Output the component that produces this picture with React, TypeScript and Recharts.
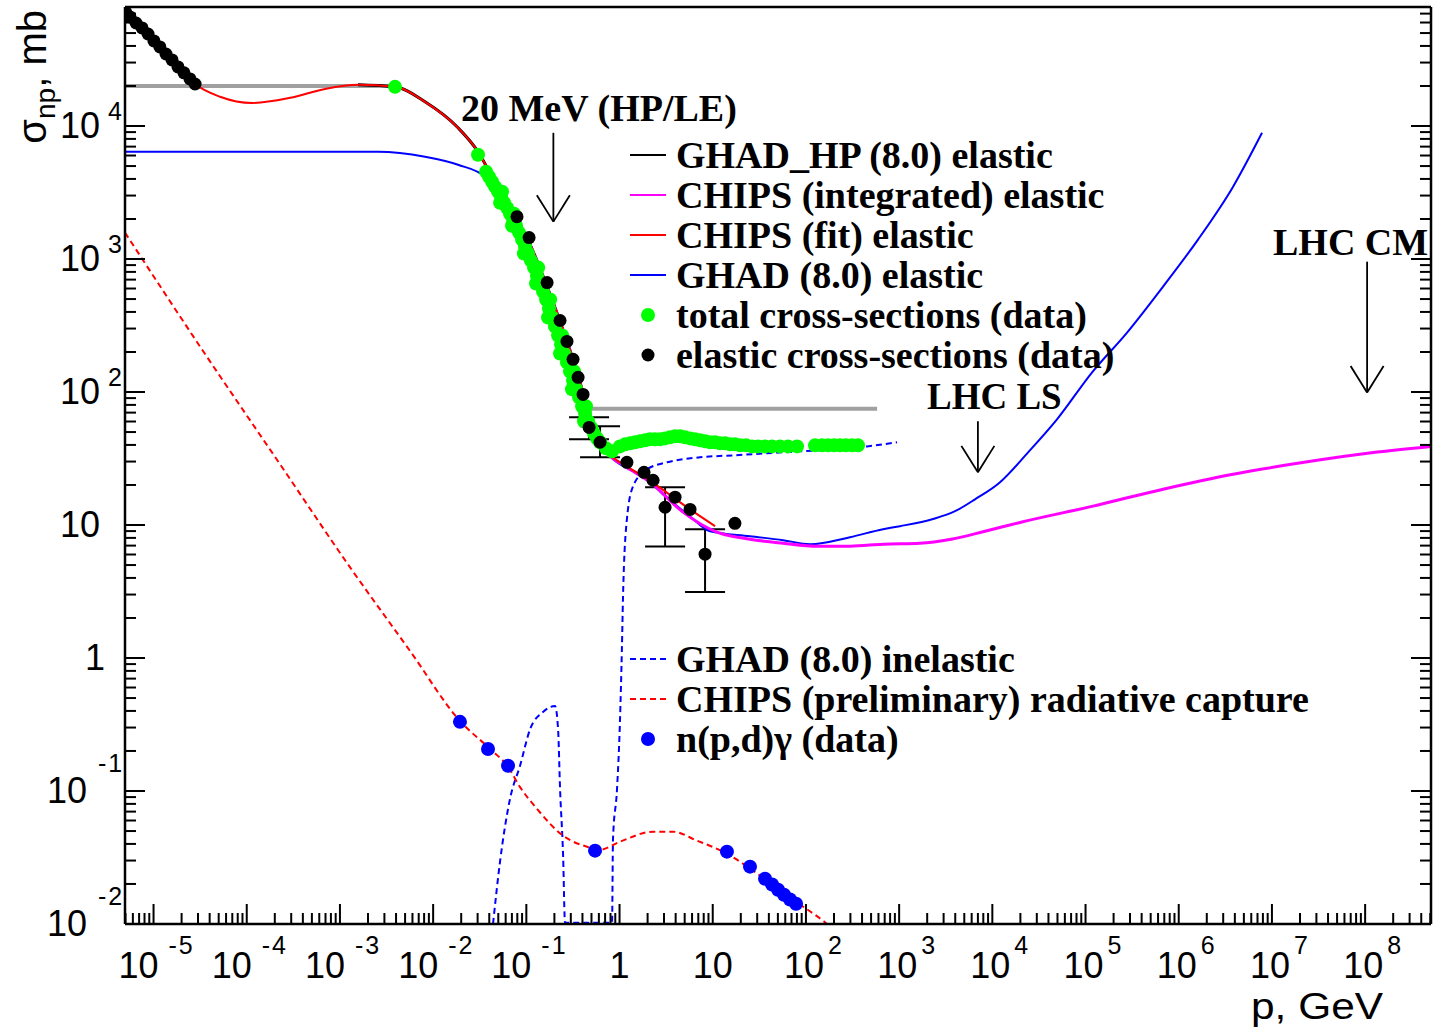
import React from 'react';
import { ComposedChart, Line, Scatter, XAxis, YAxis, ErrorBar, ReferenceLine } from 'recharts';

type P = [number, number];

// ---------- data (p in GeV, sigma in mb) ----------
const GRAY_LOW: P[] = [[4.9e-6, 20000], [0.0039, 20000]];
const GRAY_HIGH: P[] = [[0.48, 75], [580, 75]];

const ELASTIC_DATA: P[] = [
  [5.07e-6, 70800], [5.6e-6, 66100], [6.49e-6, 59500], [7.53e-6, 54600], [8.73e-6, 49200],
  [1.01e-5, 43600], [1.17e-5, 39300], [1.36e-5, 34800], [1.58e-5, 31400], [1.83e-5, 27800],
  [2.12e-5, 25100], [2.46e-5, 22600], [2.79e-5, 20700],
  [0.0794, 2080], [0.107, 1450], [0.167, 665], [0.23, 345], [0.273, 240], [0.317, 176],
  [0.359, 129], [0.406, 95.9],
  [1.2, 29.6], [1.83, 24.9], [2.29, 21.7], [3.94, 16.2], [5.71, 13.1], [17.3, 10.3],
];
// p, sigma, lower error, upper error
const ELASTIC_ERR: [number, number, number, number][] = [
  [0.471, 54.2, 10.1, 10.3],
  [0.618, 41.9, 9.6, 13.3],
  [3.08, 13.6, 6.7, 5.6],
  [8.27, 6.04, 2.91, 3.26],
];

const TOTAL_DATA: P[] = [
  [0.0039, 19700], [0.0303, 6080],
  [0.037, 4530], [0.0429, 3810], [0.0497, 3210], [0.0577, 2650], [0.0668, 2190], [0.0775, 1780],
  [0.0899, 1400], [0.104, 1100], [0.121, 862], [0.14, 654], [0.163, 496], [0.189, 363],
  [0.219, 266], [0.254, 195], [0.294, 143], [0.341, 105], [0.396, 78], [0.459, 60.2],
  [0.532, 48.9], [0.618, 41.9], [0.716, 37.7],
  [0.0398, 4150], [0.0461, 3500], [0.0535, 2940], [0.0621, 2430], [0.072, 1980], [0.0835, 1580],
  [0.0968, 1240], [0.112, 973], [0.13, 750], [0.151, 569], [0.175, 424], [0.203, 311],
  [0.236, 228], [0.273, 167], [0.317, 122], [0.368, 91.1], [0.427, 69.1], [0.495, 54.2],
  [0.574, 44.8],
  [0.0523, 2650], [0.0702, 1780], [0.0942, 1100], [0.127, 654], [0.171, 363], [0.23, 195],
  [0.309, 105], [0.416, 60.2],
  [0.0549, 3210], [0.0737, 2190], [0.0992, 1400], [0.134, 862], [0.18, 496], [0.242, 266],
  [0.325, 143], [0.437, 78],
  [0.831, 35.8], [1.01, 39], [1.15, 40.4], [1.3, 41.1], [1.47, 41.9], [1.66, 42.6], [1.88, 43.3],
  [2.12, 44.1], [2.4, 44.1], [2.72, 44.1], [3.08, 44.8], [3.48, 45.6], [3.94, 46.4], [4.46, 46.4],
  [5.04, 45.6], [5.71, 44.8], [6.46, 44.1], [7.31, 43.3], [8.27, 42.6], [9.35, 41.9], [10.6, 41.9],
  [12, 41.1], [13.6, 41.1], [15.3, 40.4], [17.3, 40.4], [19.6, 39.7], [22.8, 39.7], [26.4, 39],
  [30.6, 39], [36.4, 39], [43.3, 39], [52.7, 39], [64.3, 39], [80.3, 39], [125, 39.7],
  [149, 39.7], [173, 39.7], [200, 39.7], [232, 39.7], [269, 39.7], [313, 39.7], [362, 39.7],
];

const NPDG_DATA: P[] = [
  [0.0194, 0.331], [0.0388, 0.207], [0.0636, 0.155], [0.546, 0.0356], [14.2, 0.035],
  [25.1, 0.027], [36.4, 0.0219], [43.3, 0.0198], [50.2, 0.0181], [58.2, 0.0166],
  [67.5, 0.0153], [78.3, 0.0142],
];

const GHAD_HP: P[] = [
  [1.56e-3, 20400], [0.0039, 19700], [8.18e-3, 15200], [0.0185, 9690], [0.0303, 6400],
  [0.0429, 4150], [0.0591, 2790], [0.0794, 1980], [0.11, 1280], [0.159, 677], [0.23, 339],
  [0.309, 185], [0.396, 105],
];

const CHIPS_FIT: P[] = [
  [4.94e-6, 74500], [7.53e-6, 54600], [1.01e-5, 43600], [1.7e-5, 29800], [2.79e-5, 20700],
  [5.17e-5, 16600], [1.14e-4, 14900], [2.92e-4, 16300], [6.92e-4, 19000], [1.56e-3, 20400],
  [0.0039, 19700], [8.18e-3, 15200], [0.0185, 9690], [0.0303, 6400], [0.0429, 4150],
  [0.0591, 2790], [0.0794, 1980], [0.11, 1280], [0.159, 677], [0.23, 339], [0.309, 185],
  [0.396, 105], [0.482, 67.9], [0.588, 48], [0.791, 34], [1.15, 28.1], [1.88, 22.8],
  [3.08, 17.9], [5.71, 13.1], [10.6, 9.8],
];

const CHIPS_INT: P[] = [
  [0.0591, 2740], [0.0794, 1940], [0.11, 1260], [0.159, 665], [0.23, 333], [0.309, 182],
  [0.396, 103], [0.482, 66.7], [0.588, 47.2], [0.791, 33.4], [1.15, 27.6], [2.12, 21],
  [4.8, 12.5], [11.1, 8.83], [25.1, 7.82], [56.8, 7.3], [132, 6.93], [297, 6.93], [671, 7.18],
  [1675, 7.3], [3610, 7.82], [8350, 8.98], [20300, 10.5], [117000, 13.8], [679000, 18.6],
  [3.83e6, 24.1], [2.21e7, 29.6], [1.28e8, 35.2], [5.09e8, 39],
];

const GHAD_EL: P[] = [
  [4.94e-6, 6400], [2.56e-3, 6400], [8.18e-3, 5870], [0.0185, 5110], [0.036, 4150],
  [0.0522, 3040], [0.0794, 1910], [0.11, 1240], [0.159, 654], [0.23, 327], [0.309, 179],
  [0.396, 101], [0.482, 65.6], [0.588, 46.4], [0.791, 32.9], [1.15, 27.2], [1.79, 23.3],
  [3.08, 16.5], [5.71, 11.6], [9.35, 8.98], [25.1, 8.24], [56.8, 7.69], [111, 7.18],
  [297, 8.1], [671, 9.3], [1023, 9.8], [2310, 11.1], [3980, 12.7], [6520, 15.6], [12100, 21],
  [24200, 35.2], [49400, 62.3], [117000, 140], [279000, 280], [679000, 621], [1.61e6, 1400],
  [3.83e6, 3500], [7.83e6, 8890],
];

const GHAD_INEL: P[] = [
  [0.0439, 0.01], [0.0522, 0.0294], [0.0668, 0.0874], [0.0856, 0.155], [0.11, 0.293],
  [0.151, 0.393], [0.203, 0.436], [0.219, 0.293], [0.23, 0.104], [0.248, 0.0326],
  [0.26, 0.0102], [0.831, 0.0102], [0.851, 0.0438], [0.94, 0.104], [1.01, 0.331], [1.06, 1.17],
  [1.09, 2.92], [1.2, 11.1], [1.4, 19.6], [1.97, 26.2], [3.23, 29.6], [7.31, 32.3],
  [16.5, 33.4], [56.8, 35.2], [195, 37.1], [453, 39], [949, 41.9],
];

const CAPTURE: P[] = [
  [4.94e-6, 1580], [3.15e-5, 220], [2.28e-4, 28.6], [1.28e-3, 4.82], [5.65e-3, 1.13],
  [0.0194, 0.336], [0.0408, 0.207], [0.0636, 0.152], [0.0856, 0.107], [0.13, 0.0735],
  [0.248, 0.0461], [0.448, 0.0381], [0.618, 0.0362], [1.01, 0.0416], [2.29, 0.0494],
  [3.75, 0.0494], [6.78, 0.0423], [14.2, 0.0338], [27.1, 0.0252], [62.7, 0.0163],
  [160, 0.0103], [205, 0.0089],
];

const ARROWS = [
  { label: '20 MeV (HP/LE)', p: 0.195, from: 8890, to: 1910 },
  { label: 'LHC LS', p: 7000, from: 60.2, to: 24.9 },
  { label: 'LHC CM', p: 1.05e8, from: 955, to: 99.3 },
];

const X_LABEL_EXPONENTS = [-5, -4, -3, -2, -1, 0, 1, 2, 3, 4, 5, 6, 7, 8];
const Y_LABEL_EXPONENTS = [-2, -1, 0, 1, 2, 3, 4];
const MINOR_MULTS = [1, 2, 3, 4, 5, 6, 7, 8, 9];

const X_DOMAIN: [number, number] = [4.94e-6, 5.09e8];
const Y_DOMAIN: [number, number] = [0.01, 78500];

const LEGEND_TOP = [
  { label: 'GHAD_HP (8.0) elastic', kind: 'line', color: '#000000' },
  { label: 'CHIPS (integrated) elastic', kind: 'line', color: '#ff00ff' },
  { label: 'CHIPS (fit) elastic', kind: 'line', color: '#ff0000' },
  { label: 'GHAD (8.0) elastic', kind: 'line', color: '#0000ff' },
  { label: 'total cross-sections (data)', kind: 'dot', color: '#00ff00' },
  { label: 'elastic cross-sections (data)', kind: 'dot', color: '#000000' },
];
const LEGEND_BOTTOM = [
  { label: 'GHAD (8.0) inelastic', kind: 'dash', color: '#0000ff' },
  { label: 'CHIPS (preliminary) radiative capture', kind: 'dash', color: '#ff0000' },
  { label: 'n(p,d)γ (data)', kind: 'dot', color: '#0000ff' },
];

// ---------- helpers ----------
const W = 1434;
const H = 1027;
const SANS = '"Liberation Sans", Arial, Helvetica, sans-serif';
const SERIF = '"Liberation Serif", "Times New Roman", Times, serif';

const rows = (a: P[]) => a.map(([p, s]) => ({ p, s }));

const buildTicks = (lo: number, hi: number, decades: number[]) => {
  const out: number[] = [];
  decades.forEach((n) => MINOR_MULTS.forEach((m) => {
    const v = m * Math.pow(10, n);
    if (v >= lo * 0.9999 && v <= hi * 1.0001) out.push(v);
  }));
  return out;
};
const X_TICKS = buildTicks(X_DOMAIN[0], X_DOMAIN[1], [-6, ...X_LABEL_EXPONENTS]);
const Y_TICKS = buildTicks(Y_DOMAIN[0], Y_DOMAIN[1], Y_LABEL_EXPONENTS);

const isMajor = (v: number) => {
  const l = Math.log10(v);
  return Math.abs(l - Math.round(l)) < 1e-6;
};

const MAJOR = 20;
const MINOR = 11;
const TICK_W = 2;

const BottomTick = (props: any) => {
  const { x, y, payload } = props;
  const v = payload.value;
  const major = isMajor(v);
  const e = Math.round(Math.log10(v));
  const len = major ? MAJOR : MINOR;
  let label: any = null;
  if (major && X_LABEL_EXPONENTS.includes(e)) {
    const base = { fontFamily: SANS, fontSize: 36, fill: '#000' };
    if (e === 0) label = <text x={x} y={y + 54} textAnchor="middle" {...base}>1</text>;
    else if (e === 1) label = <text x={x} y={y + 54} textAnchor="middle" {...base}>10</text>;
    else if (e < 0)
      label = (
        <g>
          <text x={x - 35} y={y + 54} {...base}>10</text>
          <text x={x + 15} y={y + 30} {...base} fontSize={25}>-<tspan dx={2}>{String(-e)}</tspan></text>
        </g>
      );
    else
      label = (
        <g>
          <text x={x - 22} y={y + 54} {...base}>10</text>
          <text x={x + 22} y={y + 30} {...base} fontSize={25}>{String(e)}</text>
        </g>
      );
  }
  return (
    <g>
      <line x1={x} y1={y} x2={x} y2={y - len} stroke="#000" strokeWidth={TICK_W} />
      {label}
    </g>
  );
};

const TopTick = (props: any) => {
  const { x, y, payload } = props;
  const len = isMajor(payload.value) ? MAJOR : MINOR;
  return <line x1={x} y1={y} x2={x} y2={y + len} stroke="#000" strokeWidth={TICK_W} />;
};

const LeftTick = (props: any) => {
  const { x, y, payload } = props;
  const v = payload.value;
  const major = isMajor(v);
  const e = Math.round(Math.log10(v));
  const len = major ? MAJOR : MINOR;
  let label: any = null;
  if (major && Y_LABEL_EXPONENTS.includes(e)) {
    const base = { fontFamily: SANS, fontSize: 36, fill: '#000' };
    if (e === 0) label = <text x={x - 20} y={y + 12} textAnchor="end" {...base}>1</text>;
    else if (e === 1) label = <text x={x - 25} y={y + 12} textAnchor="end" {...base}>10</text>;
    else if (e < 0)
      label = (
        <g>
          <text x={x - 38} y={y + 12} textAnchor="end" {...base}>10</text>
          <text x={x - 27} y={y - 19} {...base} fontSize={25}>-<tspan dx={2}>{String(-e)}</tspan></text>
        </g>
      );
    else
      label = (
        <g>
          <text x={x - 25} y={y + 12} textAnchor="end" {...base}>10</text>
          <text x={x - 17} y={y - 6} {...base} fontSize={25}>{String(e)}</text>
        </g>
      );
  }
  return (
    <g>
      <line x1={x} y1={y} x2={x + len} y2={y} stroke="#000" strokeWidth={TICK_W} />
      {label}
    </g>
  );
};

const RightTick = (props: any) => {
  const { x, y, payload } = props;
  const len = isMajor(payload.value) ? MAJOR : MINOR;
  return <line x1={x} y1={y} x2={x - len} y2={y} stroke="#000" strokeWidth={TICK_W} />;
};

const dotShape = (r: number, color: string) => (props: any) =>
  <circle cx={props.cx} cy={props.cy} r={r} fill={color} stroke="none" />;

const AXIS_LINE = { stroke: '#000', strokeWidth: 2.5 };

export default function App() {
  const errRows = ELASTIC_ERR.map(([p, s, lo, hi]) => ({ p, s, err: [lo, hi] }));
  const lineProps = { dot: false as const, activeDot: false as const, isAnimationActive: false, legendType: 'none' as const };
  return (
    <div style={{ position: 'absolute', left: 0, top: 0, width: W, height: H, background: '#fff', overflow: 'hidden' }}>
      <ComposedChart width={W} height={H} margin={{ top: 6, right: 2, bottom: 102, left: 124 }}>
        <XAxis
          dataKey="p" type="number" scale="log" domain={X_DOMAIN} allowDataOverflow
          ticks={X_TICKS} interval={0} tick={(p: any) => <BottomTick {...p} />} tickLine={false}
          tickSize={0} tickMargin={0} height={1} axisLine={AXIS_LINE}
        />
        <XAxis
          xAxisId="top" orientation="top" type="number" scale="log" domain={X_DOMAIN} allowDataOverflow
          ticks={X_TICKS} interval={0} tick={(p: any) => <TopTick {...p} />} tickLine={false}
          tickSize={0} tickMargin={0} height={1} axisLine={AXIS_LINE}
        />
        <YAxis
          dataKey="s" type="number" scale="log" domain={Y_DOMAIN} allowDataOverflow
          ticks={Y_TICKS} interval={0} tick={(p: any) => <LeftTick {...p} />} tickLine={false}
          tickSize={0} tickMargin={0} width={1} axisLine={AXIS_LINE}
        />
        <YAxis
          yAxisId="right" orientation="right" type="number" scale="log" domain={Y_DOMAIN} allowDataOverflow
          ticks={Y_TICKS} interval={0} tick={(p: any) => <RightTick {...p} />} tickLine={false}
          tickSize={0} tickMargin={0} width={1} axisLine={AXIS_LINE}
        />

        <Line data={rows(GRAY_LOW)} dataKey="s" type="linear" stroke="#a0a0a0" strokeWidth={4} {...lineProps} />
        <Line data={rows(GRAY_HIGH)} dataKey="s" type="linear" stroke="#a0a0a0" strokeWidth={4} {...lineProps} />

        <Scatter data={rows(TOTAL_DATA)} dataKey="s" shape={dotShape(7, '#00ff00')} isAnimationActive={false} />
        <Scatter data={rows(ELASTIC_DATA)} dataKey="s" shape={dotShape(6.5, '#000')} isAnimationActive={false} />
        <Scatter data={errRows} dataKey="s" shape={dotShape(6.5, '#000')} isAnimationActive={false}>
          <ErrorBar dataKey="err" direction="y" width={20} stroke="#000" strokeWidth={2} />
        </Scatter>
        <Scatter data={rows(NPDG_DATA)} dataKey="s" shape={dotShape(7, '#0000ff')} isAnimationActive={false} />

        <Line data={rows(GHAD_HP)} dataKey="s" type="monotone" stroke="#000" strokeWidth={3} {...lineProps} />
        <Line data={rows(GHAD_EL)} dataKey="s" type="monotone" stroke="#0000ff" strokeWidth={2} {...lineProps} />
        <Line data={rows(CHIPS_INT)} dataKey="s" type="monotone" stroke="#ff00ff" strokeWidth={3} {...lineProps} />
        <Line data={rows(CHIPS_FIT)} dataKey="s" type="monotone" stroke="#ff0000" strokeWidth={2} {...lineProps} />
        <Line data={rows(GHAD_INEL)} dataKey="s" type="monotone" stroke="#0000ff" strokeWidth={2} strokeDasharray="6 4" {...lineProps} />
        <Line data={rows(CAPTURE)} dataKey="s" type="monotone" stroke="#ff0000" strokeWidth={2} strokeDasharray="6 4" {...lineProps} />

        {ARROWS.map((a, i) => (
          <ReferenceLine key={`as${i}`} segment={[{ x: a.p, y: a.from }, { x: a.p, y: a.to }]} stroke="#000" strokeWidth={1.8} />
        ))}
        {ARROWS.map((a, i) => (
          <ReferenceLine key={`al${i}`} segment={[{ x: a.p * 0.665, y: a.to * 1.58 }, { x: a.p, y: a.to }]} stroke="#000" strokeWidth={1.8} />
        ))}
        {ARROWS.map((a, i) => (
          <ReferenceLine key={`ar${i}`} segment={[{ x: a.p * 1.503, y: a.to * 1.58 }, { x: a.p, y: a.to }]} stroke="#000" strokeWidth={1.8} />
        ))}
      </ComposedChart>

      <svg width={W} height={H} style={{ position: 'absolute', left: 0, top: 0, pointerEvents: 'none' }}>
        <text transform="translate(46,10) rotate(-90)" textAnchor="end" fontFamily={SANS} fontSize={40} fill="#000">
          σ<tspan fontSize={28} dy={9}>np</tspan><tspan dy={-9}>, mb</tspan>
        </text>
        <text x={1251} y={1019} fontFamily={SANS} fontSize={36} textLength={132} lengthAdjust="spacingAndGlyphs" fill="#000">p, GeV</text>

        <text x={461} y={121} fontFamily={SERIF} fontWeight="bold" fontSize={38} fill="#000">{ARROWS[0].label}</text>
        <text x={927} y={409} fontFamily={SERIF} fontWeight="bold" fontSize={37} fill="#000">{ARROWS[1].label}</text>
        <text x={1273} y={255} fontFamily={SERIF} fontWeight="bold" fontSize={38} fill="#000">{ARROWS[2].label}</text>

        {LEGEND_TOP.map((it, i) => {
          const cy = 155 + 40 * i;
          return (
            <g key={`lt${i}`}>
              {it.kind === 'line' && <line x1={630} x2={666} y1={cy} y2={cy} stroke={it.color} strokeWidth={2} />}
              {it.kind === 'dot' && <circle cx={648} cy={cy} r={it.color === '#000000' ? 6.5 : 7} fill={it.color} />}
              <text x={676} y={cy + 12.5} fontFamily={SERIF} fontWeight="bold" fontSize={38} fill="#000">{it.label}</text>
            </g>
          );
        })}
        {LEGEND_BOTTOM.map((it, i) => {
          const cy = 659 + 40 * i;
          return (
            <g key={`lb${i}`}>
              {it.kind === 'dash' && <line x1={630} x2={666} y1={cy} y2={cy} stroke={it.color} strokeWidth={2} strokeDasharray="6 4" />}
              {it.kind === 'dot' && <circle cx={648} cy={cy} r={7} fill={it.color} />}
              <text x={676} y={cy + 12.5} fontFamily={SERIF} fontWeight="bold" fontSize={38} fill="#000">{it.label}</text>
            </g>
          );
        })}
      </svg>
    </div>
  );
}
